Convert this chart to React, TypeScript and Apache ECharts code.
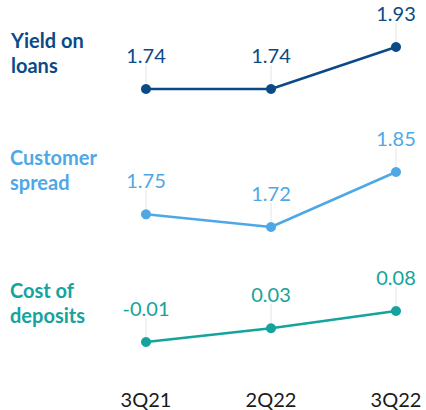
import React, { useEffect, useRef } from "react";
import * as echarts from "echarts";

const categories = ["3Q21", "2Q22", "3Q22"];
const yieldOnLoans = [1.74, 1.74, 1.93];
const customerSpread = [1.75, 1.72, 1.85];
const costOfDeposits = [-0.01, 0.03, 0.08];
const seriesNames = ["Yield on\nloans", "Customer\nspread", "Cost of\ndeposits"];

const colors = ["#0b4a86", "#4ea8e6", "#14a39d"];
const FONT = "Lato, 'Noto Sans', sans-serif";

export default function App() {
  const ref = useRef<HTMLDivElement>(null);
  useEffect(() => {
    const chart = echarts.init(ref.current!, null, { renderer: "svg" });
    const grids = [
      { left: 146, width: 250, top: 31.5, height: 88.4 },
      { left: 146, width: 250, top: 150.85, height: 126.9 },
      { left: 146, width: 250, top: 304.1, height: 68.9 },
    ];
    const yRanges = [
      [1.6, 2.0],
      [1.6, 1.9],
      [-0.1, 0.1],
    ];
    const datas = [yieldOnLoans, customerSpread, costOfDeposits];
    const option: any = {
      animation: false,
      backgroundColor: "#ffffff",
      grid: grids,
      xAxis: grids.map((_, i) => ({
        type: "category",
        gridIndex: i,
        data: categories,
        boundaryGap: false,
        axisLine: { show: false },
        axisTick: { show: false },
        splitLine: { show: false },
        axisLabel: {
          show: i === 2,
          margin: 16,
          fontSize: 20,
          color: "#1a1a1a",
          fontFamily: FONT,
          verticalAlign: "top",
        },
      })),
      yAxis: grids.map((_, i) => ({
        type: "value",
        gridIndex: i,
        min: yRanges[i][0],
        max: yRanges[i][1],
        show: false,
        splitLine: { show: false },
      })),
      graphic: [
        { top: 27, left: 11 },
        { top: 144, left: 10 },
        { top: 277, left: 10 },
      ].map((p, i) => ({
        type: "text",
        left: p.left,
        top: p.top,
        style: {
          text: seriesNames[i],
          fill: colors[i],
          font: `bold 20px ${FONT}`,
          lineHeight: 25,
        },
      })),
      series: datas.map((d, i) => ({
        type: "line",
        xAxisIndex: i,
        yAxisIndex: i,
        data: d,
        color: colors[i],
        symbol: "circle",
        symbolSize: 10,
        lineStyle: { width: 2.5, color: colors[i] },
        itemStyle: { color: colors[i] },
        label: {
          show: true,
          position: "top",
          distance: 5,
          fontSize: 20,
          fontFamily: FONT,
          color: colors[i],
          formatter: (p: any) => p.value.toFixed(2),
        },
        labelLayout: { dy: -14 },
        labelLine: { show: true, lineStyle: { color: "#e4e4e4", width: 1 } },
      })),
    };
    chart.setOption(option);
    return () => chart.dispose();
  }, []);
  return (
    <div
      ref={ref}
      style={{ position: "absolute", left: 0, top: 0, width: 426, height: 410 }}
    />
  );
}
